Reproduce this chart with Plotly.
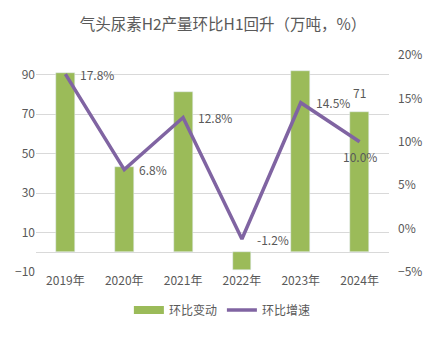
import plotly.graph_objects as go

years = ["2019年", "2020年", "2021年", "2022年", "2023年", "2024年"]
change = [91, 43, 81, -9, 92, 71]          # 环比变动 (万吨)
growth = [17.8, 6.8, 12.8, -1.2, 14.5, 10.0]  # 环比增速 (%)

FONT = "Noto Sans CJK SC"
GRAY = "#595959"
GREEN = "#9BBB59"
PURPLE = "#8064A2"

fig = go.Figure()
fig.add_trace(go.Bar(
    x=years, y=change, name="环比变动", marker_color=GREEN,
    width=0.32, yaxis="y", showlegend=False,
))
# legend entry for bars (wide rectangle swatch)
fig.add_trace(go.Scatter(
    x=[years[0]], y=[None], name="环比变动", mode="lines",
    line=dict(color=GREEN, width=8), yaxis="y", showlegend=True,
))
fig.add_trace(go.Scatter(
    x=years, y=growth, name="环比增速", mode="lines",
    line=dict(color=PURPLE, width=3.5), yaxis="y2",
))

annotations = []
for i, (yr, v) in enumerate(zip(years, growth)):
    last = i == len(growth) - 1
    annotations.append(dict(
        x=yr, y=v, xref="x", yref="y2", text=f"{v:.1f}%", showarrow=False,
        xanchor="center" if last else "left", yanchor="middle",
        xshift=0 if last else 13, yshift=-15 if last else 0,
        font=dict(family=FONT, size=12, color=GRAY),
    ))
annotations.append(dict(
    x=years[-1], y=change[-1], xref="x", yref="y", text=str(change[-1]),
    showarrow=False, xanchor="center", yanchor="bottom", yshift=9,
    font=dict(family=FONT, size=12, color=GRAY),
))

fig.update_layout(
    width=446, height=340,
    margin=dict(l=36, r=57, t=55, b=68),
    paper_bgcolor="white", plot_bgcolor="white",
    font=dict(family=FONT, size=12, color=GRAY),
    title=dict(text="气头尿素H2产量环比H1回升（万吨，%）", x=0.5, xanchor="center",
               y=1 - 25 / 340, yanchor="middle",
               font=dict(family=FONT, size=15.5, color=GRAY)),
    xaxis=dict(showgrid=False, showline=False, ticks="",
               tickfont=dict(size=12, color=GRAY)),
    yaxis=dict(range=[-10, 100], tick0=-10, dtick=20, showgrid=True,
               gridcolor="#D9D9D9", gridwidth=1, zeroline=True,
               zerolinecolor="#D9D9D9", zerolinewidth=1, showline=False,
               tickfont=dict(size=12, color=GRAY)),
    yaxis2=dict(range=[-5, 20], dtick=5, overlaying="y", side="right",
                showgrid=False, zeroline=False, ticksuffix="%",
                ticklabelstandoff=8,
                tickfont=dict(size=12, color=GRAY)),
    legend=dict(orientation="h", x=0.528, xanchor="center", y=-0.175,
                yanchor="middle", font=dict(size=12, color=GRAY),
                itemwidth=30, traceorder="normal"),
    annotations=annotations,
    bargap=0,
)

fig.write_html("out.html")
